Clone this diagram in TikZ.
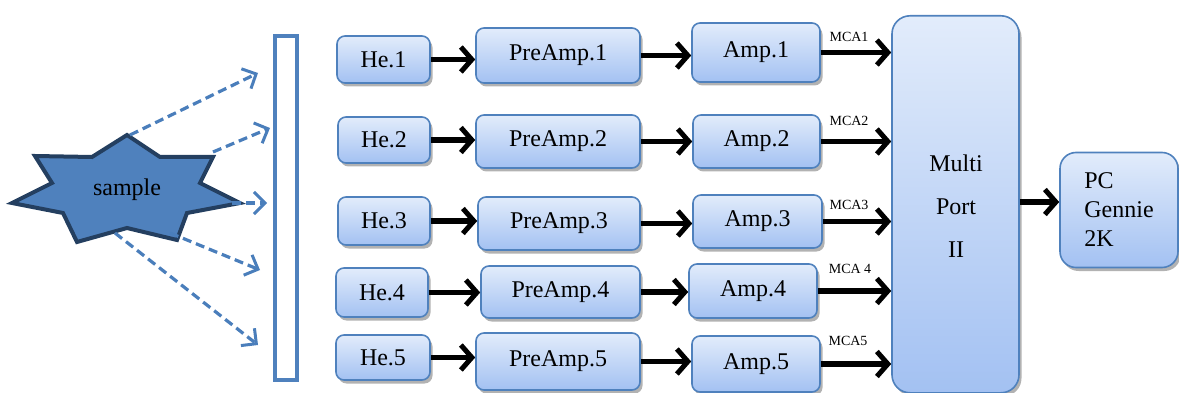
\documentclass[tikz,border=0pt]{standalone}
\usepackage{fontspec}
\setmainfont{Liberation Serif}
\usetikzlibrary{arrows.meta,shadows}
\definecolor{boxedge}{HTML}{4F81BD}
\definecolor{boxtop}{HTML}{E2ECFB}
\definecolor{boxbot}{HTML}{A3C1F2}
\definecolor{starfill}{HTML}{4F81BD}
\definecolor{staredge}{HTML}{243F60}
\definecolor{rayc}{HTML}{4A7EBB}
\tikzset{
  box/.style={draw=boxedge, line width=1.6pt, rounded corners=8pt,
    top color=boxtop, bottom color=boxbot, inner sep=0pt,
    drop shadow={shadow xshift=2.5pt, shadow yshift=-3.5pt, opacity=0.3, fill=black},
    font=\fontsize{24}{28}\selectfont},
  blk/.style={line width=5.5pt, -{Straight Barb[length=11pt,width=25pt,line width=5pt]}},
  ray/.style={rayc, line width=3.2pt, dash pattern=on 9pt off 5pt,
    -{Straight Barb[length=11pt,width=22pt,line width=3pt]}},
  mca/.style={font=\fontsize{14}{16}\selectfont, inner sep=0pt}
}
\begin{document}
\begin{tikzpicture}[x=1pt,y=-1pt]
\useasboundingbox (0,0) rectangle (1179,393);
% sample star
\draw[fill=starfill, draw=staredge, line width=4pt, line join=miter]
  (127,135) -- (160,157) -- (213,157) -- (200,183) -- (240,203) -- (187,213)
  -- (177,240) -- (127,228) -- (77,242) -- (63,213) -- (12,203) -- (52,183)
  -- (35,156) -- (92,157) -- cycle;
\node[font=\fontsize{24}{28}\selectfont] (sample) at (127,190) {sample};
% detector bar
\node[draw=boxedge, line width=4.5pt, fill=white, minimum width=22pt, minimum height=344pt, inner sep=0pt] (bar) at (286,208) {};
% rays
\coordinate (s1) at (130,135); \coordinate (t1) at (258,73);
\coordinate (s2) at (213,152); \coordinate (t2) at (270,128);
\coordinate (s3) at (232,203); \coordinate (t3) at (267,203);
\coordinate (s4) at (170,233); \coordinate (t4) at (260,270);
\coordinate (s5) at (115,233); \coordinate (t5) at (258,345);
\foreach \i in {1,...,5} \draw[ray] (s\i) -- (t\i);
% boxes
\node[box, minimum width=127pt, minimum height=377pt, rounded corners=18pt, anchor=north] (multi) at (955.5,15) {};
\node[font=\fontsize{24}{28}\selectfont, align=center] (mtext) at (956,206) {Multi\\[15pt]Port\\[15pt]II};
\node[box, minimum width=118pt, minimum height=115pt, rounded corners=16pt, align=left, font=\fontsize{24}{29}\selectfont] (pc) at (1119,210) {PC\\Gennie\\2K};

\node[box, minimum width=93pt, minimum height=47pt] (he1) at (383.5,59.5) {He.1};
\node[box, minimum width=164pt, minimum height=55pt] (pre1) at (558,55.5) {PreAmp.1};
\node[box, minimum width=128pt, minimum height=59pt] (amp1) at (756,52.5) {Amp.1};

\node[box, minimum width=92pt, minimum height=46pt] (he2) at (384,140) {He.2};
\node[box, minimum width=164pt, minimum height=53pt] (pre2) at (558,141.5) {PreAmp.2};
\node[box, minimum width=127pt, minimum height=53pt] (amp2) at (756.5,141.5) {Amp.2};

\node[box, minimum width=92pt, minimum height=48pt] (he3) at (384,221) {He.3};
\node[box, minimum width=162pt, minimum height=53pt] (pre3) at (559,223.5) {PreAmp.3};
\node[box, minimum width=129pt, minimum height=53pt] (amp3) at (757.5,221.5) {Amp.3};

\node[box, minimum width=92pt, minimum height=49pt] (he4) at (382,292.5) {He.4};
\node[box, minimum width=159pt, minimum height=52pt] (pre4) at (560.5,292) {PreAmp.4};
\node[box, minimum width=128pt, minimum height=54pt] (amp4) at (753,291) {Amp.4};

\node[box, minimum width=94pt, minimum height=45pt] (he5) at (383,357.5) {He.5};
\node[box, minimum width=164pt, minimum height=57pt] (pre5) at (558,361.5) {PreAmp.5};
\node[box, minimum width=128pt, minimum height=56pt] (amp5) at (756,364) {Amp.5};

% MCA labels
\node[mca] (l1) at (849,37) {MCA1};
\node[mca] (l2) at (849,121) {MCA2};
\node[mca] (l3) at (849,205) {MCA3};
\node[mca] (l4) at (850,269) {MCA 4};
\node[mca] (l5) at (848,341) {MCA5};

% arrows
\foreach \i in {1,...,5} {
  \draw[blk] (he\i.east) -- (he\i.east -| pre\i.west);
  \draw[blk] (pre\i.east) -- (pre\i.east -| amp\i.west);
  \draw[blk] (amp\i.east) -- (amp\i.east -| multi.west);
}
\draw[blk] (multi.east |- 0,202) -- (pc.west |- 0,202);
\end{tikzpicture}
\end{document}
